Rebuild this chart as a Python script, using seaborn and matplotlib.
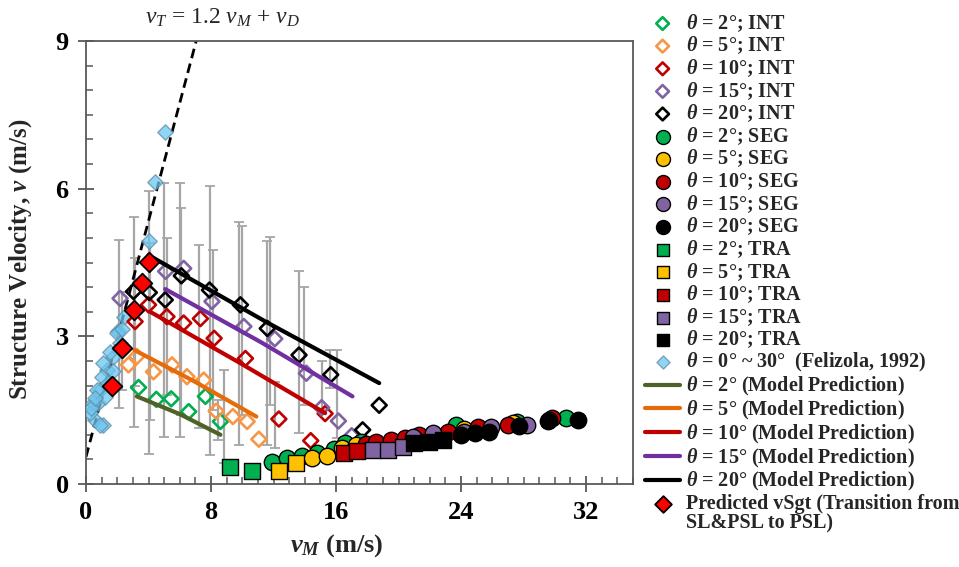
import matplotlib
matplotlib.use("Agg")
import matplotlib.pyplot as plt
import seaborn as sns
import numpy as np
from matplotlib.ticker import MultipleLocator

# ---------------- data ----------------
# INT (open diamonds)
int2_x = [3.36, 4.5, 5.45, 6.57, 7.64, 8.6]
int2_y = [1.96, 1.72, 1.73, 1.47, 1.78, 1.27]
int5_x = [2.72, 3.25, 4.32, 5.5, 6.46, 7.53, 8.33, 9.4, 10.31, 11.06]
int5_y = [2.42, 2.59, 2.28, 2.42, 2.18, 2.11, 1.48, 1.37, 1.27, 0.91]
int10_x = [3.14, 4.0, 5.18, 6.25, 7.32, 8.2, 10.2, 12.34, 14.38, 15.3]
int10_y = [3.30, 3.64, 3.40, 3.27, 3.36, 2.96, 2.55, 1.32, 0.88, 1.43]
int15_x = [2.18, 5.1, 6.25, 8.06, 10.1, 12.08, 14.1, 15.08, 16.15, 17.0]
int15_y = [3.77, 4.32, 4.38, 3.71, 3.2, 2.95, 2.25, 1.55, 1.28, 0.98]
int20_x = [3.04, 4.05, 5.07, 6.1, 7.9, 9.88, 11.6, 13.63, 15.66, 17.7, 18.76]
int20_y = [3.91, 3.89, 3.74, 4.23, 3.94, 3.64, 3.16, 2.62, 2.22, 1.1, 1.6]

# SEG (circles)
seg2_x = [11.92, 12.85, 13.8, 14.8, 15.9, 16.6, 17.6, 23.7, 27.6, 30.7]
seg2_y = [0.45, 0.52, 0.57, 0.62, 0.72, 0.83, 0.86, 1.2, 1.26, 1.34]
seg5_x = [14.48, 15.45, 16.4, 17.3, 24.2, 27.3]
seg5_y = [0.52, 0.57, 0.73, 0.8, 1.12, 1.24]
seg10_x = [17.9, 18.55, 19.5, 20.4, 21.3, 23.15, 25.1, 27.0, 29.8]
seg10_y = [0.82, 0.86, 0.9, 0.94, 1.0, 1.06, 1.15, 1.2, 1.34]
seg15_x = [20.9, 22.2, 24.2, 25.9, 28.2, 29.6]
seg15_y = [0.96, 1.03, 1.06, 1.16, 1.2, 1.3]
seg20_x = [24.0, 24.86, 25.8, 27.7, 29.57, 31.5]
seg20_y = [1.0, 1.03, 1.06, 1.18, 1.27, 1.3]

# TRA (squares)
tra2_x = [9.24, 10.63]
tra2_y = [0.35, 0.27]
tra5_x = [12.34, 13.46]
tra5_y = [0.27, 0.43]
tra10_x = [16.52, 17.37]
tra10_y = [0.62, 0.67]
tra15_x = [18.34, 19.3, 20.3]
tra15_y = [0.7, 0.7, 0.76]
tra20_x = [21.0, 21.97, 22.85]
tra20_y = [0.83, 0.86, 0.9]

# Felizola (1992)
fel_x = [5.07, 4.43, 4.0, 2.4, 2.07, 1.97, 2.18, 1.75, 1.54, 1.33, 1.11, 1.0, 0.9,
         0.79, 0.69, 1.22, 0.47, 0.58, 1.11, 0.26, 0.9, 1.4, 1.7, 0.35, 2.3, 0.6]
fel_y = [7.16, 6.14, 4.93, 3.4, 3.1, 3.07, 2.86, 2.59, 2.69, 2.32, 2.45, 2.18, 1.91,
         1.64, 1.91, 1.77, 1.64, 1.3, 1.2, 1.44, 1.2, 2.05, 2.3, 1.55, 3.15, 1.75]

# Model predictions
m2_x, m2_y = [3.25, 6.0, 8.6], [1.78, 1.42, 1.0]
m5_x, m5_y = [3.1, 6.9, 10.9], [2.72, 2.09, 1.37]
m10_x, m10_y = [4.1, 9.9, 15.3], [3.5, 2.45, 1.44]
m15_x, m15_y = [5.07, 11.2, 17.05], [3.96, 2.88, 1.78]
m20_x, m20_y = [4.0, 11.6, 18.76], [4.65, 3.28, 2.05]

# Predicted vSgt
pred_x = [1.65, 2.33, 3.1, 3.57, 4.0]
pred_y = [1.99, 2.77, 3.54, 4.09, 4.52]

# Dashed line vT = 1.2 vM + vD (end points)
dash_x = [0.0, 7.05]
dash_y = [0.55, 9.0]

# Error bars (x, low, high)
eb_x = [2.08, 2.3, 3.04, 3.15, 4.0, 4.1, 4.96, 5.2, 6.0, 6.1, 7.21, 7.96, 8.13, 8.45,
        8.81, 9.78, 9.99, 11.6, 11.8, 12.1, 13.63, 13.95, 15.1, 15.6, 16.09]
eb_lo = [1.54, 1.9, 1.16, 2.0, 0.6, 1.3, 0.96, 1.8, 0.96, 1.4, 1.13, 0.59, 1.5, 0.9,
         0.42, 0.79, 1.4, 0.8, 1.6, 0.73, 1.03, 1.6, 1.5, 1.95, 0.93]
eb_hi = [4.95, 3.9, 5.43, 4.6, 5.96, 4.9, 6.11, 5.0, 6.11, 5.6, 4.86, 6.06, 4.76, 1.7,
         2.32, 5.33, 5.24, 4.93, 5.01, 2.08, 4.32, 4.01, 2.49, 2.72, 2.72]

xtick_vals = [0, 8, 16, 24, 32]
ytick_vals = [0, 3, 6, 9]

# ---------------- style ----------------
sns.set_theme(style="white")
plt.rcParams["font.family"] = ["Liberation Serif", "DejaVu Serif"]
plt.rcParams["mathtext.fontset"] = "custom"
plt.rcParams["mathtext.rm"] = "Liberation Serif"
plt.rcParams["mathtext.it"] = "Liberation Serif:italic"
plt.rcParams["mathtext.bf"] = "Liberation Serif:bold"
plt.rcParams["mathtext.bfit"] = "Liberation Serif:italic:bold"

fig = plt.figure(figsize=(9.59, 5.67), dpi=100)
ax = fig.add_axes([86 / 959, 1 - 484 / 567, (633 - 86) / 959, (484 - 41) / 567])

# error bars
eb_mid = [(a + b) / 2 for a, b in zip(eb_lo, eb_hi)]
ax.errorbar(eb_x, eb_mid, yerr=[np.subtract(eb_mid, eb_lo), np.subtract(eb_hi, eb_mid)],
            fmt="none", ecolor="#A6A6A6", elinewidth=1.6, capsize=3.5, capthick=1.3, zorder=1)

# dashed line
sns.lineplot(x=dash_x, y=dash_y, color="black", linestyle=(0, (3.5, 2.0)), linewidth=2.0,
             ax=ax, zorder=2)

GREEN, ORANGE_L, RED, PURPLE, BLACK = "#00B050", "#F79646", "#C00000", "#8064A2", "#000000"
YELLOW = "#FFC000"

int_sets = [(int2_x, int2_y, GREEN, "2"), (int5_x, int5_y, ORANGE_L, "5"),
            (int10_x, int10_y, RED, "10"), (int15_x, int15_y, PURPLE, "15"),
            (int20_x, int20_y, BLACK, "20")]
for xs, ys, c, t in int_sets:
    sns.scatterplot(x=xs, y=ys, marker="D", s=58, facecolor="none", edgecolor=c,
                    linewidth=1.9, ax=ax, zorder=4,
                    label=r"$\mathbfit{\theta}$ = " + t + "°; INT")

seg_sets = [(seg2_x, seg2_y, GREEN, "2"), (seg5_x, seg5_y, YELLOW, "5"),
            (seg10_x, seg10_y, RED, "10"), (seg15_x, seg15_y, PURPLE, "15"),
            (seg20_x, seg20_y, BLACK, "20")]
for xs, ys, c, t in seg_sets:
    sns.scatterplot(x=xs, y=ys, marker="o", s=140, color=c, edgecolor="black",
                    linewidth=1.0, ax=ax, zorder=5,
                    label=r"$\mathbfit{\theta}$ = " + t + "°; SEG")

tra_sets = [(tra2_x, tra2_y, GREEN, "2"), (tra5_x, tra5_y, YELLOW, "5"),
            (tra10_x, tra10_y, RED, "10"), (tra15_x, tra15_y, PURPLE, "15"),
            (tra20_x, tra20_y, BLACK, "20")]
for xs, ys, c, t in tra_sets:
    sns.scatterplot(x=xs, y=ys, marker="s", s=120, color=c, edgecolor="black",
                    linewidth=1.0, ax=ax, zorder=6,
                    label=r"$\mathbfit{\theta}$ = " + t + "°; TRA")

sns.scatterplot(x=fel_x, y=fel_y, marker="D", s=62, color="#6CC6F0", edgecolor="#5E8FA8",
                linewidth=1.0, alpha=0.75, ax=ax, zorder=3,
                label=r"$\mathbfit{\theta}$ = 0° ~ 30°  (Felizola, 1992)")

model_sets = [(m2_x, m2_y, "#4F6228", "2"), (m5_x, m5_y, "#E46C0A", "5"),
              (m10_x, m10_y, "#C00000", "10"), (m15_x, m15_y, "#7030A0", "15"),
              (m20_x, m20_y, "#000000", "20")]
for xs, ys, c, t in model_sets:
    sns.lineplot(x=xs, y=ys, color=c, linewidth=3.0, ax=ax, zorder=4,
                 label=r"$\mathbfit{\theta}$ = " + t + "° (Model Prediction)")

sns.scatterplot(x=pred_x, y=pred_y, marker="D", s=100, color="#FF0000", edgecolor="black",
                linewidth=1.3, ax=ax, zorder=7,
                label="Predicted vSgt (Transition from")

# ---------------- axes ----------------
ax.set_xlim(0, 35)
ax.set_ylim(0, 9)
ax.set_xticks(xtick_vals)
ax.set_yticks(ytick_vals)
ax.set_xticklabels([str(v) for v in xtick_vals], fontsize=19, fontweight="bold")
ax.set_yticklabels([str(v) for v in ytick_vals], fontsize=19, fontweight="bold")
ax.xaxis.set_minor_locator(MultipleLocator(1))
ax.yaxis.set_minor_locator(MultipleLocator(0.5))
ax.tick_params(which="major", direction="inout", length=11, width=1.3, color="#595959",
               labelcolor="black", pad=7, bottom=True, left=True, top=False, right=False)
ax.tick_params(which="minor", direction="in", length=5, width=1.1, color="#595959",
               bottom=True, left=True, top=False, right=False)
for sp in ax.spines.values():
    sp.set_visible(True)
    sp.set_color("#595959")
    sp.set_linewidth(1.3)
ax.grid(False)

ax.set_xlabel(r"$\mathbfit{v_M}$ (m/s)", fontsize=19, fontweight="bold")
ax.set_ylabel(r"Structure Velocity, $\mathbfit{v}$ (m/s)", fontsize=18, fontweight="bold")
ax.xaxis.set_label_coords(0.458, -0.108)
ax.yaxis.set_label_coords(-0.095, 0.508)

ax.text(8.7, 9.47, r"$v_T$ = 1.2 $v_M$ + $v_D$", fontsize=17, ha="center", va="center",
        clip_on=False)

leg_font = {"family": "Liberation Serif", "weight": "bold", "size": 14.5}
handles, labels = ax.get_legend_handles_labels()
leg = ax.legend(handles, labels, loc="upper left", bbox_to_anchor=(645 / 959, 1 - 12 / 567),
                bbox_transform=fig.transFigure, frameon=False, borderpad=0, borderaxespad=0,
                prop=leg_font, labelspacing=0.04, handlelength=1.75, handletextpad=0.3,
                markerscale=0.85)

# second line of the last legend label
fig.canvas.draw()
last = leg.get_texts()[-1]
bb = last.get_window_extent()
fig.text(bb.x0 / 959, (bb.y0 + 1) / 567, "SL&PSL to PSL)", ha="left", va="top",
         fontfamily="Liberation Serif", fontweight="bold", fontsize=14.5)

fig.savefig("out.png", dpi=100)
